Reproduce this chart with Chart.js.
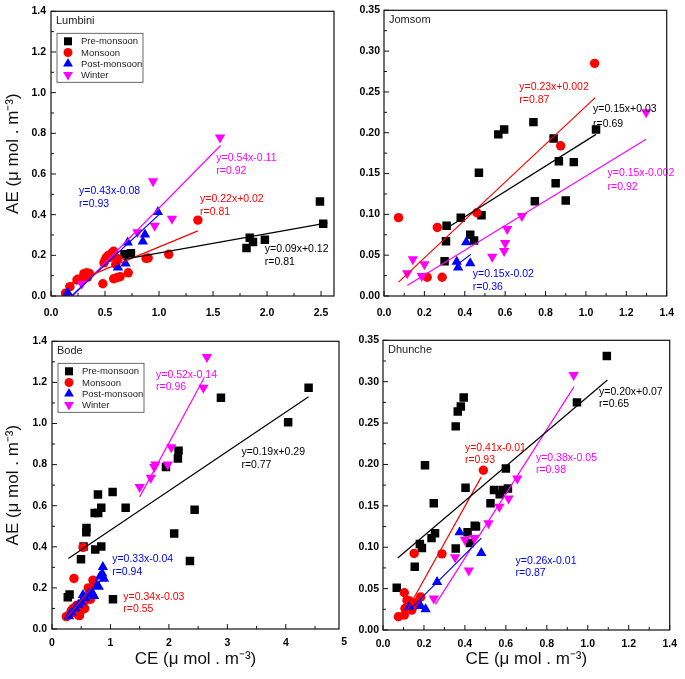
<!DOCTYPE html>
<html>
<head>
<meta charset="utf-8">
<script src="https://cdn.jsdelivr.net/npm/chart.js@4.4.1/dist/chart.umd.min.js"></script>
<style>
  html, body { margin: 0; padding: 0; background: #fff; }
  #wrap { position: relative; width: 685px; height: 679px; overflow: hidden; background: #fff; }
  canvas { position: absolute; }
</style>
</head>
<body>
<div id="wrap">
  <canvas id="lumbini" width="340" height="330" style="left:0;top:0"></canvas>
  <canvas id="jomsom" width="345" height="330" style="left:340px;top:0"></canvas>
  <canvas id="bode" width="350" height="349" style="left:0;top:330px"></canvas>
  <canvas id="dhunche" width="345" height="349" style="left:340px;top:330px"></canvas>
</div>
<script>
// ---- series names / colours ----
const seasons = ["Pre-monsoon", "Monsoon", "Post-monsoon", "Winter"];
const seasonColors = ["#000000", "#ff0000", "#0000ff", "#ff00ff"];

// ---- Lumbini ----
const lumbiniPre = [[0.68,0.205],[0.74,0.21],[1.81,0.236],[1.84,0.286],[1.87,0.265],[1.98,0.277],[2.49,0.465],[2.52,0.355]];
const lumbiniMon = [[0.135,0.014],[0.175,0.046],[0.24,0.079],[0.25,0.082],[0.28,0.085],[0.30,0.093],[0.305,0.11],[0.33,0.114],
  [0.34,0.093],[0.355,0.111],[0.48,0.06],[0.49,0.163],[0.50,0.175],[0.51,0.188],[0.53,0.2],[0.545,0.19],[0.56,0.21],[0.58,0.22],
  [0.6,0.156],[0.62,0.183],[0.58,0.085],[0.61,0.09],[0.64,0.095],[0.715,0.114],[0.88,0.185],[0.9,0.187],[1.09,0.205],[1.36,0.373]];
const lumbiniPost = [[0.155,0.017],[0.62,0.14],[0.69,0.16],[0.71,0.263],[0.85,0.268],[0.87,0.303],[0.99,0.413]];
const lumbiniWin = [[0.284,0.06],[0.80,0.313],[0.96,0.345],[0.945,0.564],[1.12,0.38],[1.565,0.78]];
const lumbiniFits = [[[0.67,0.18],[2.56,0.36]], [[0.13,0.05],[1.36,0.32]], [[0.19,0.0],[1.0,0.40]], [[0.2,0.0],[1.57,0.74]]];
const lumbiniEq = ["y=0.09x+0.12", "y=0.22x+0.02", "y=0.43x-0.08", "y=0.54x-0.11"];
const lumbiniR = ["r=0.81", "r=0.81", "r=0.93", "r=0.92"];
const lumbiniXTicks = [0, 0.5, 1, 1.5, 2, 2.5];
const lumbiniYTicks = [0, 0.2, 0.4, 0.6, 0.8, 1.0, 1.2, 1.4];

// ---- Jomsom ----
const jomsomPre = [[0.30,0.0425],[0.307,0.067],[0.31,0.086],[0.38,0.096],[0.427,0.075],[0.446,0.068],[0.47,0.151],[0.483,0.099],
  [0.566,0.198],[0.595,0.204],[0.74,0.213],[0.747,0.116],[0.84,0.193],[0.85,0.138],[0.866,0.165],[0.90,0.117],[0.94,0.164],[1.05,0.204]];
const jomsomMon = [[0.072,0.096],[0.214,0.023],[0.264,0.084],[0.288,0.023],[0.46,0.102],[0.875,0.184],[1.043,0.285]];
const jomsomPost = [[0.36,0.042],[0.367,0.035],[0.407,0.066],[0.427,0.04]];
const jomsomWin = [[0.115,0.028],[0.143,0.045],[0.187,0.0245],[0.20,0.039],[0.536,0.048],[0.595,0.055],[0.60,0.065],[0.61,0.082],[0.683,0.098],[1.298,0.225]];
const jomsomFits = [[[0.31,0.083],[1.05,0.198]], [[0.072,0.017],[1.046,0.243]], [[0.36,0.038],[0.43,0.051]], [[0.115,0.013],[1.298,0.192]]];
const jomsomEq = ["y=0.15x+0.03", "y=0.23x+0.002", "y=0.15x-0.02", "y=0.15x-0.002"];
const jomsomR = ["r=0.69", "r=0.87", "r=0.36", "r=0.92"];
const jomsomXTicks = [0, 0.2, 0.4, 0.6, 0.8, 1.0, 1.2, 1.4];
const jomsomYTicks = [0, 0.05, 0.10, 0.15, 0.20, 0.25, 0.30, 0.35];

// ---- Bode ----
const bodePre = [[0.27,0.155],[0.30,0.168],[0.496,0.339],[0.54,0.402],[0.587,0.471],[0.59,0.492],[0.73,0.564],[0.74,0.387],[0.79,0.564],
  [0.786,0.654],[0.843,0.402],[0.843,0.59],[1.037,0.667],[1.043,0.145],[1.26,0.59],[1.95,0.788],[2.09,0.465],[2.154,0.83],[2.165,0.868],
  [2.36,0.331],[2.44,0.58],[2.89,1.125],[4.04,1.006],[4.39,1.174]];
const bodeMon = [[0.245,0.06],[0.30,0.07],[0.33,0.09],[0.36,0.10],[0.376,0.246],[0.40,0.08],[0.42,0.115],[0.45,0.068],[0.47,0.065],
  [0.50,0.09],[0.52,0.12],[0.53,0.397],[0.56,0.10],[0.58,0.14],[0.62,0.20],[0.66,0.145],[0.70,0.238],[0.74,0.22]];
const bodePost = [[0.29,0.062],[0.33,0.08],[0.40,0.10],[0.45,0.118],[0.50,0.13],[0.53,0.165],[0.57,0.15],[0.62,0.17],[0.68,0.18],
  [0.72,0.16],[0.76,0.21],[0.80,0.205],[0.82,0.255],[0.86,0.27],[0.87,0.302],[0.89,0.245]];
const bodeWin = [[1.50,0.691],[1.69,0.736],[1.75,0.788],[1.77,0.80],[1.98,0.80],[2.04,0.884],[2.59,1.174],[2.65,1.323]];
const bodeFits = [[[0.28,0.343],[4.39,1.13]], [[0.25,0.055],[0.72,0.215]], [[0.285,0.055],[0.83,0.235]], [[1.5,0.643],[2.6,1.22]]];
const bodeEq = ["y=0.19x+0.29", "y=0.34x-0.03", "y=0.33x-0.04", "y=0.52x-0.14"];
const bodeR = ["r=0.77", "r=0.55", "r=0.94", "r=0.96"];
const bodeXTicks = [0, 1, 2, 3, 4];
const bodeYTicks = [0, 0.2, 0.4, 0.6, 0.8, 1.0, 1.2, 1.4];

// ---- Dhunche ----
const dhunchePre = [[0.067,0.051],[0.155,0.0765],[0.18,0.104],[0.19,0.099],[0.205,0.199],[0.237,0.111],[0.248,0.153],[0.254,0.117],
  [0.355,0.246],[0.365,0.264],[0.38,0.27],[0.394,0.281],[0.355,0.0985],[0.403,0.172],[0.413,0.118],[0.424,0.105],[0.448,0.126],
  [0.454,0.125],[0.525,0.153],[0.542,0.169],[0.57,0.164],[0.584,0.169],[0.60,0.195],[0.61,0.171],[0.947,0.275],[1.093,0.331]];
const dhuncheMon = [[0.075,0.016],[0.104,0.018],[0.104,0.045],[0.107,0.026],[0.117,0.036],[0.13,0.035],[0.14,0.024],[0.149,0.029],
  [0.152,0.0925],[0.168,0.034],[0.184,0.04],[0.288,0.092],[0.49,0.193]];
const dhunchePost = [[0.128,0.028],[0.184,0.029],[0.208,0.025],[0.264,0.058],[0.374,0.118],[0.48,0.093]];
const dhuncheWin = [[0.248,0.038],[0.352,0.088],[0.40,0.109],[0.419,0.072],[0.445,0.111],[0.515,0.129],[0.568,0.149],[0.613,0.159],[0.656,0.183],[0.931,0.308]];
const dhuncheFits = [[[0.072,0.087],[1.096,0.302]], [[0.12,0.025],[0.48,0.185]], [[0.128,0.024],[0.48,0.111]], [[0.256,0.031],[0.933,0.294]]];
const dhuncheEq = ["y=0.20x+0.07", "y=0.41x-0.01", "y=0.26x-0.01", "y=0.38x-0.05"];
const dhuncheR = ["r=0.65", "r=0.93", "r=0.87", "r=0.98"];
const dhuncheXTicks = [0, 0.2, 0.4, 0.6, 0.8, 1.0, 1.2, 1.4];
const dhuncheYTicks = [0, 0.05, 0.10, 0.15, 0.20, 0.25, 0.30, 0.35];

const FONT = "'Liberation Sans', Arial, Helvetica, sans-serif";
Chart.defaults.font.family = FONT;
Chart.defaults.color = "#000";

const markers = [
  { pointStyle: "rect", radius: 6, rotation: 0 },
  { pointStyle: "circle", radius: 4.7, rotation: 0 },
  { pointStyle: "triangle", radius: 6, rotation: 0 },
  { pointStyle: "triangle", radius: 6, rotation: 180 }
];

// frame, inward ticks, legend box, station name, fit labels
const decor = {
  id: "decor",
  afterDatasetsDraw(chart, args, o) {
    const { ctx, chartArea: a, scales: { x, y } } = chart;
    ctx.save();
    ctx.strokeStyle = "#111";
    ctx.lineWidth = 1.2;
    ctx.strokeRect(a.left, a.top, a.right - a.left, a.bottom - a.top);

    ctx.lineWidth = 1;
    ctx.beginPath();
    const xs = o.xTicks, xStep = xs[1] - xs[0];
    xs.forEach(v => {
      const p = x.getPixelForValue(v);
      ctx.moveTo(p, a.bottom); ctx.lineTo(p, a.bottom - 5);
      const m = x.getPixelForValue(v + xStep / 2);
      if (m < a.right - 1) { ctx.moveTo(m, a.bottom); ctx.lineTo(m, a.bottom - 3); }
    });
    const ys = o.yTicks, yStep = ys[1] - ys[0];
    ys.forEach(v => {
      const p = y.getPixelForValue(v);
      ctx.moveTo(a.left, p); ctx.lineTo(a.left + 5, p);
      const m = y.getPixelForValue(v + yStep / 2);
      if (m > a.top + 1) { ctx.moveTo(a.left, m); ctx.lineTo(a.left + 3, m); }
    });
    ctx.stroke();

    // extra tick label cut at the panel edge
    (o.extraX || []).forEach(v => {
      ctx.font = "bold 10.5px " + FONT;
      ctx.fillStyle = "#000";
      ctx.textAlign = "center";
      ctx.textBaseline = "top";
      ctx.fillText(String(v), x.getPixelForValue(v), a.bottom + o.xPad);
    });

    // station name
    ctx.font = "11px " + FONT;
    ctx.fillStyle = "#222";
    ctx.textAlign = "left";
    ctx.textBaseline = "middle";
    ctx.fillText(o.name, a.left + 5, a.top + 10);

    // legend
    if (o.legend) {
      const bx = a.left + 6, by = a.top + 22, bw = 86, bh = 49;
      ctx.lineWidth = 0.8;
      ctx.strokeStyle = "#444";
      ctx.strokeRect(bx, by, bw, bh);
      ctx.font = "9.5px " + FONT;
      seasons.forEach((s, i) => {
        const cy = by + 8 + i * 11.2;
        ctx.fillStyle = seasonColors[i];
        Chart.helpers.drawPoint(ctx, { pointStyle: markers[i].pointStyle, radius: markers[i].radius * 0.95,
          rotation: markers[i].rotation, borderWidth: 0 }, bx + 11, cy);
        ctx.fillStyle = "#222";
        ctx.fillText(s, bx + 24, cy + 0.5);
      });
    }

    // regression equations
    ctx.font = "10.5px " + FONT;
    o.notes.forEach((n, i) => {
      ctx.fillStyle = seasonColors[i];
      const px = x.getPixelForValue(n.at[0]), py = y.getPixelForValue(n.at[1]);
      ctx.fillText(o.eq[i], px, py);
      ctx.fillText(o.r[i], px, py + n.gap);
    });
    ctx.restore();
  }
};

function toPoints(arr) { return arr.map(p => ({ x: p[0], y: p[1] })); }

function makePanel(id, c) {
  const series = [c.pre, c.mon, c.post, c.win];
  const datasets = series.map((s, i) => ({
    label: seasons[i],
    data: toPoints(s),
    showLine: false,
    pointStyle: markers[i].pointStyle,
    pointRadius: markers[i].radius,
    pointRotation: markers[i].rotation,
    pointBackgroundColor: seasonColors[i],
    pointBorderWidth: 0,
    borderColor: seasonColors[i],
    order: 4 - i
  }));
  c.fits.forEach((f, i) => datasets.push({
    label: seasons[i] + " fit",
    data: toPoints(f),
    showLine: true,
    borderColor: seasonColors[i],
    borderWidth: 1.2,
    pointRadius: 0,
    order: 0
  }));

  new Chart(document.getElementById(id), {
    type: "scatter",
    data: { datasets },
    options: {
      responsive: false,
      animation: false,
      events: [],
      layout: { padding: { left: 0, top: c.top, right: c.right, bottom: 0 } },
      plugins: {
        legend: { display: false },
        tooltip: { enabled: false },
        decor: { name: c.name, legend: c.legend, xTicks: c.xTicks, yTicks: c.yTicks, xPad: c.xPad,
          extraX: c.extraX, eq: c.eq, r: c.r, notes: c.notes }
      },
      scales: {
        x: {
          type: "linear", min: 0, max: c.xMax,
          grid: { display: false, drawTicks: false },
          border: { display: false },
          afterBuildTicks: s => { s.ticks = c.xTicks.map(v => ({ value: v })); },
          afterFit: s => { s.height = c.xHeight; },
          ticks: { color: "#000", font: { size: 10.5, weight: "bold" }, padding: c.xPad,
            autoSkip: false, maxRotation: 0, callback: v => v.toFixed(c.xDec) },
          title: { display: c.xTitle, text: "CE (\u03bc mol . m\u207b\u00b3)", color: "#111",
            font: { size: 17 }, padding: { top: 9, bottom: 9 } }
        },
        y: {
          type: "linear", min: 0, max: c.yMax,
          grid: { display: false, drawTicks: false },
          border: { display: false },
          afterBuildTicks: s => { s.ticks = c.yTicks.map(v => ({ value: v })); },
          afterFit: s => { s.width = c.yWidth; },
          ticks: { color: "#000", font: { size: 10.5, weight: "bold" }, padding: c.yPad,
            autoSkip: false, callback: v => v.toFixed(c.yDec) },
          title: { display: c.yTitle, text: "AE (\u03bc mol . m\u207b\u00b3)", color: "#111",
            font: { size: 17 }, padding: { top: 3, bottom: 3 } }
        }
      }
    },
    plugins: [decor]
  });
}

makePanel("lumbini", {
  name: "Lumbini", legend: true, pre: lumbiniPre, mon: lumbiniMon, post: lumbiniPost, win: lumbiniWin,
  fits: lumbiniFits, eq: lumbiniEq, r: lumbiniR,
  notes: [{ at: [1.98, 0.233], gap: 13 }, { at: [1.38, 0.474], gap: 13 }, { at: [0.26, 0.518], gap: 13 }, { at: [1.53, 0.677], gap: 13 }],
  xTicks: lumbiniXTicks, yTicks: lumbiniYTicks, xMax: 2.62, yMax: 1.4, xDec: 1, yDec: 1,
  top: 6, right: 5, yWidth: 51, xHeight: 34, xPad: 11, yPad: 5, xTitle: false, yTitle: true
});

makePanel("jomsom", {
  name: "Jomsom", legend: false, pre: jomsomPre, mon: jomsomMon, post: jomsomPost, win: jomsomWin,
  fits: jomsomFits, eq: jomsomEq, r: jomsomR,
  notes: [{ at: [1.035, 0.229], gap: 15 }, { at: [0.67, 0.256], gap: 13 }, { at: [0.44, 0.027], gap: 13 }, { at: [1.107, 0.15], gap: 14 }],
  xTicks: jomsomXTicks, yTicks: jomsomYTicks, xMax: 1.4, yMax: 0.35, xDec: 1, yDec: 2,
  top: 6, right: 9, yWidth: 44, xHeight: 34, xPad: 11, yPad: 4, xTitle: false, yTitle: false
});

makePanel("bode", {
  name: "Bode", legend: true, pre: bodePre, mon: bodeMon, post: bodePost, win: bodeWin,
  fits: bodeFits, eq: bodeEq, r: bodeR,
  notes: [{ at: [3.24, 0.86], gap: 13 }, { at: [1.22, 0.155], gap: 12 }, { at: [1.03, 0.338], gap: 13 }, { at: [1.78, 1.237], gap: 12 }],
  xTicks: bodeXTicks, yTicks: bodeYTicks, extraX: [5], xMax: 4.91, yMax: 1.4, xDec: 0, yDec: 1,
  top: 9, right: 11, yWidth: 52, xHeight: 50, xPad: 8, yPad: 5, xTitle: true, yTitle: true
});

makePanel("dhunche", {
  name: "Dhunche", legend: false, pre: dhunchePre, mon: dhuncheMon, post: dhunchePost, win: dhuncheWin,
  fits: dhuncheFits, eq: dhuncheEq, r: dhuncheR,
  notes: [{ at: [1.055, 0.287], gap: 12 }, { at: [0.40, 0.2195], gap: 12 }, { at: [0.647, 0.0837], gap: 12 }, { at: [0.747, 0.2075], gap: 12 }],
  xTicks: dhuncheXTicks, yTicks: dhuncheYTicks, xMax: 1.4, yMax: 0.35, xDec: 1, yDec: 2,
  top: 8, right: 10, yWidth: 43, xHeight: 49, xPad: 8, yPad: 4, xTitle: true, yTitle: false
});
</script>
</body>
</html>
